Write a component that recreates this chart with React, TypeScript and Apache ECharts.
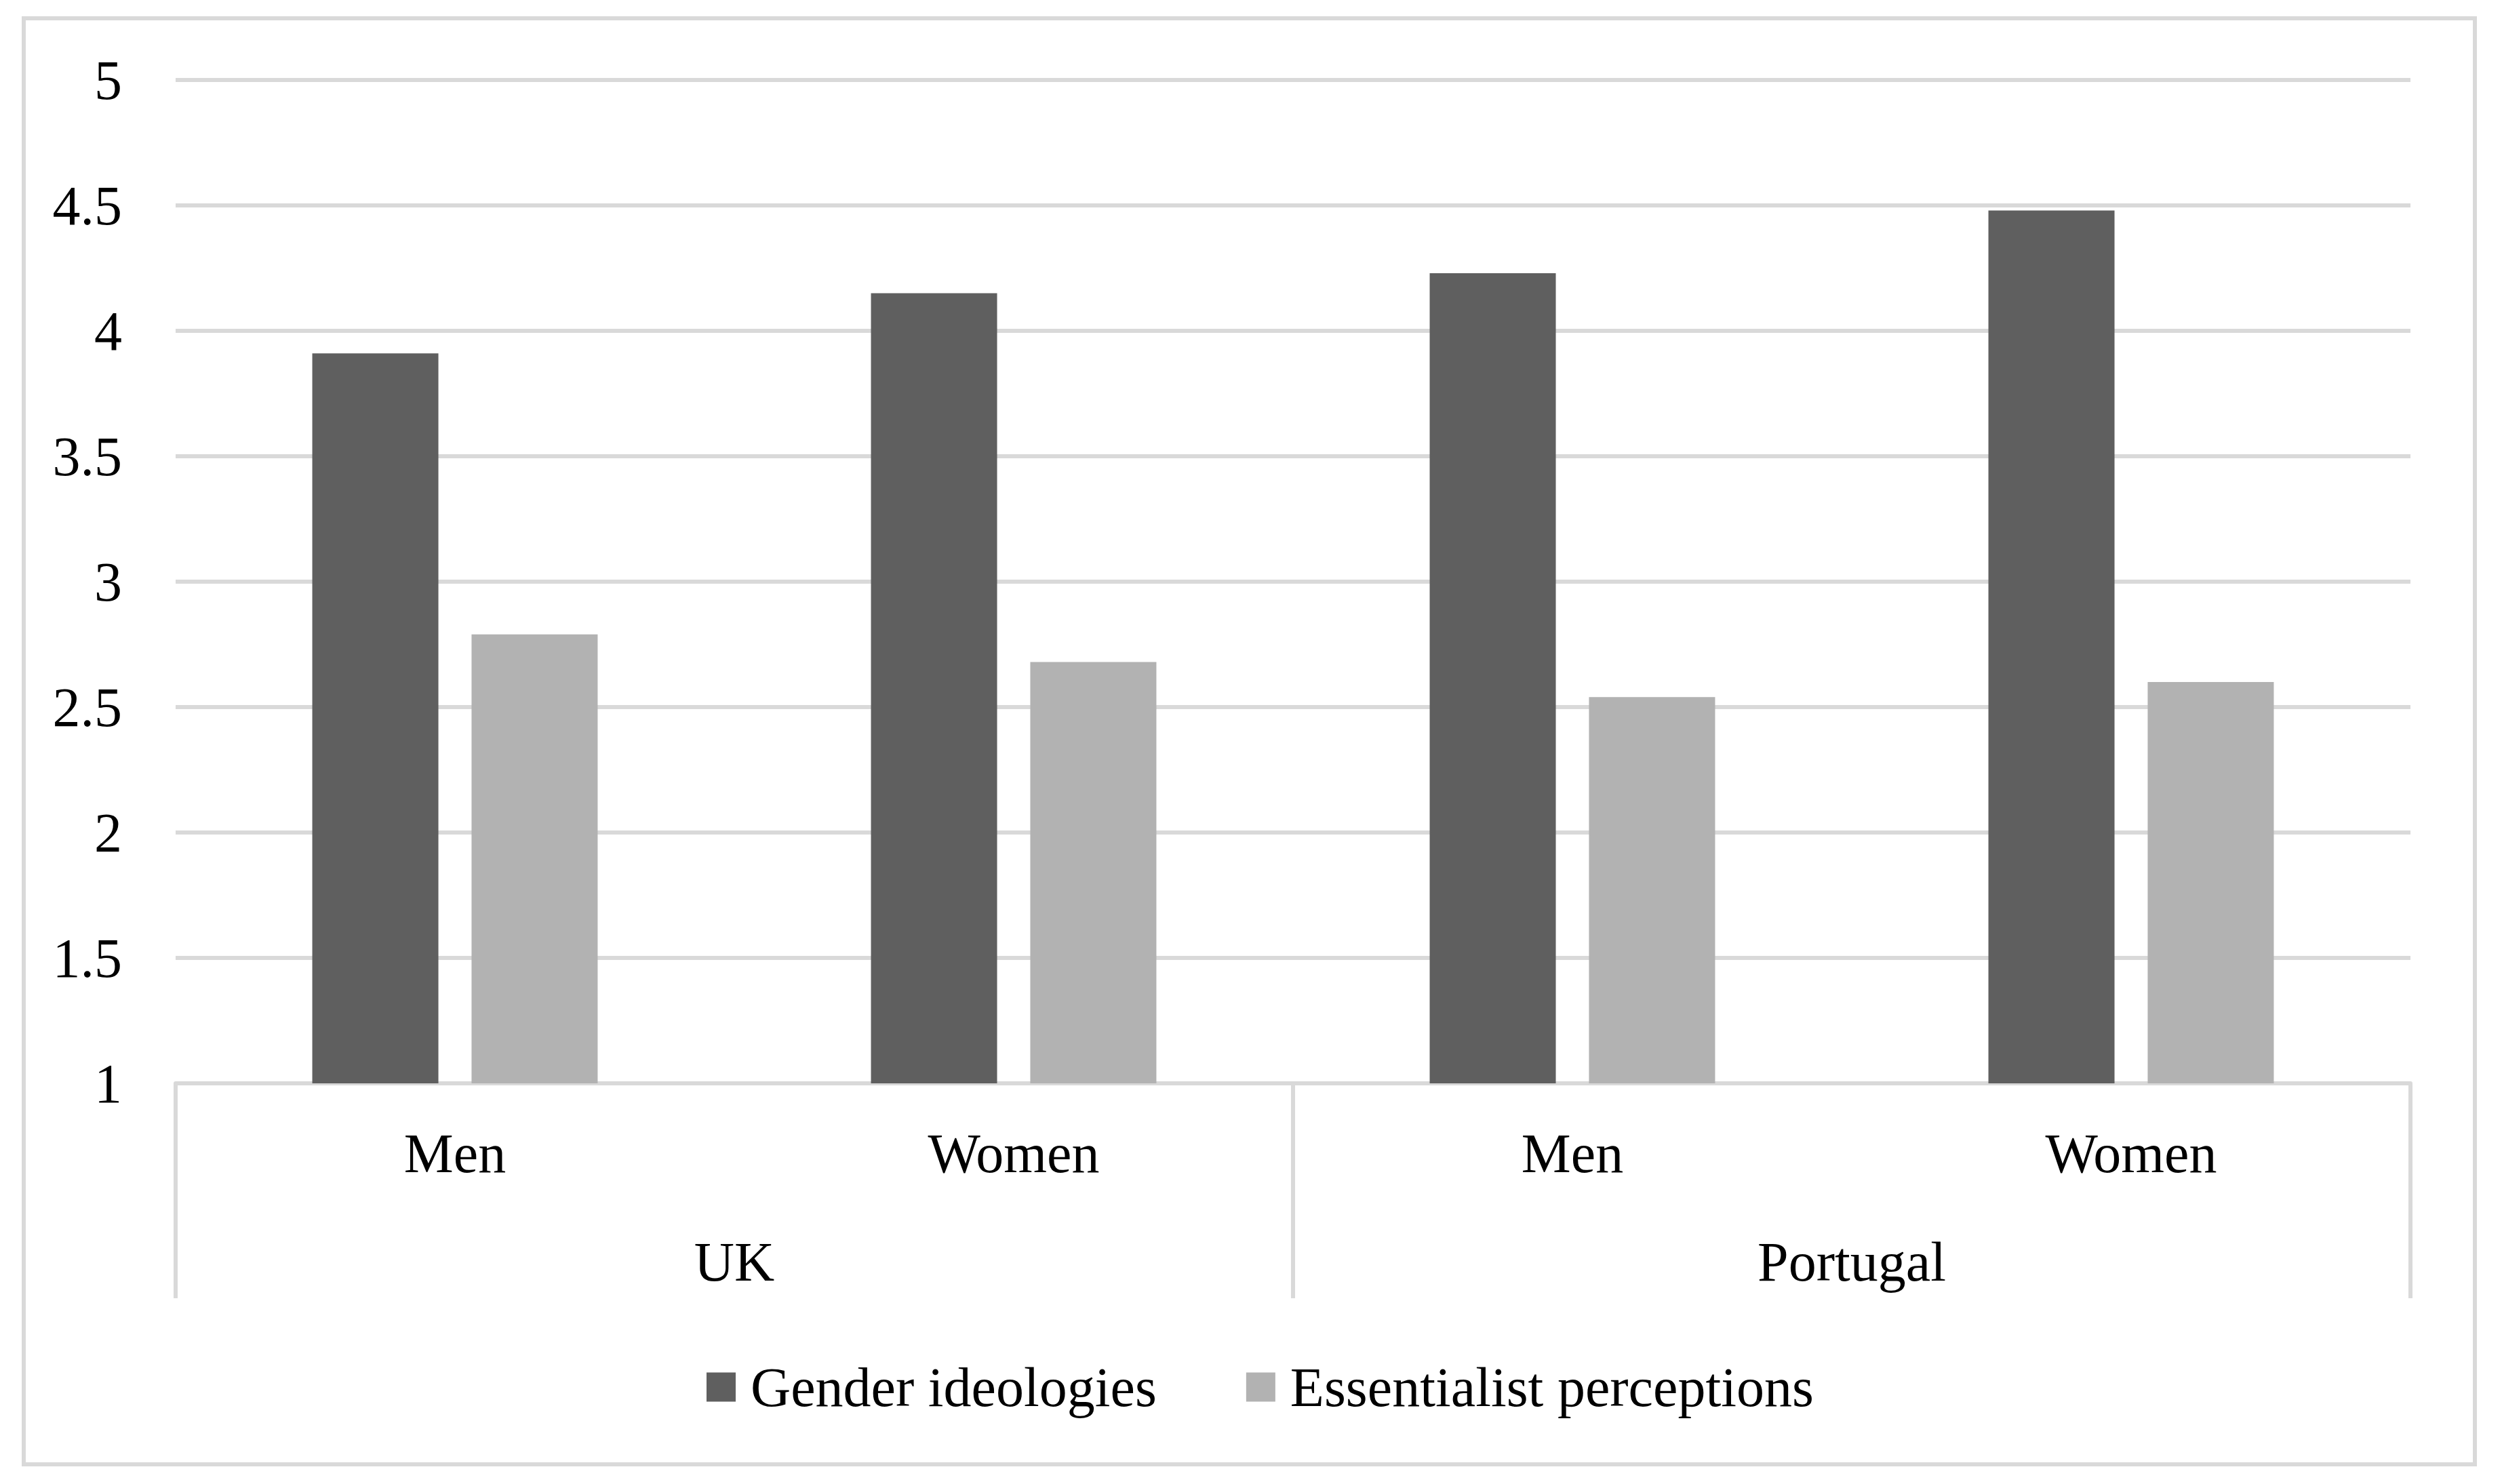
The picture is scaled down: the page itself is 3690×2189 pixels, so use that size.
import React, { useEffect, useRef } from "react";
import * as echarts from "echarts";

const subCategories = ["Men", "Women", "Men", "Women"];
const countries = ["UK", "Portugal"];
const genderIdeologies = [3.91, 4.15, 4.23, 4.48];
const essentialistPerceptions = [2.79, 2.68, 2.54, 2.6];
const seriesNames = ["Gender ideologies", "Essentialist perceptions"];
const seriesColors = ["#5f5f5f", "#b2b2b2"];

const W = 3690;
const H = 2189;
const FONT = "'Liberation Serif', 'Times New Roman', serif";
const FS = 82;
const GRID_COLOR = "#d9d9d9";

export default function App() {
  const ref = useRef<HTMLDivElement>(null);
  useEffect(() => {
    document.body.style.margin = "0";
    const chart = echarts.init(ref.current!, null, { renderer: "svg" });
    chart.setOption({
      animation: false,
      backgroundColor: "#ffffff",
      textStyle: { fontFamily: FONT },
      graphic: [
        {
          type: "rect",
          shape: { x: 35, y: 27, width: 3615, height: 2133 },
          style: { fill: "none", stroke: GRID_COLOR, lineWidth: 6 },
          silent: true,
        },
      ],
      legend: {
        left: 1037,
        top: 2000,
        itemWidth: 43,
        itemHeight: 43,
        itemGap: 132,
        icon: "rect",
        textStyle: { fontFamily: FONT, fontSize: FS, color: "#000", padding: [0, 0, 0, 17] },
        data: seriesNames,
      },
      grid: { left: 259, right: 135, top: 118, bottom: 591, containLabel: false },
      yAxis: {
        type: "value",
        min: 1,
        max: 5,
        interval: 0.5,
        axisLine: { show: false },
        axisTick: { show: false },
        axisLabel: { fontFamily: FONT, fontSize: FS, color: "#000", margin: 79 },
        splitLine: { lineStyle: { color: GRID_COLOR, width: 6 } },
      },
      xAxis: [
        {
          type: "category",
          data: subCategories,
          position: "bottom",
          axisLine: { show: true, lineStyle: { color: GRID_COLOR, width: 6 } },
          axisTick: { show: false },
          axisLabel: { fontFamily: FONT, fontSize: FS, color: "#000", margin: 62, interval: 0 },
        },
        {
          type: "category",
          data: countries,
          position: "bottom",
          axisLine: { show: false },
          axisTick: { show: true, length: 317, lineStyle: { color: GRID_COLOR, width: 6 } },
          axisLabel: { fontFamily: FONT, fontSize: FS, color: "#000", margin: 222, interval: 0 },
          splitLine: { show: false },
        },
      ],
      series: [
        {
          name: seriesNames[0],
          type: "bar",
          xAxisIndex: 0,
          data: genderIdeologies,
          barWidth: 186,
          barGap: "26.3%",
          itemStyle: { color: seriesColors[0] },
        },
        {
          name: seriesNames[1],
          type: "bar",
          xAxisIndex: 0,
          data: essentialistPerceptions,
          barWidth: 186,
          barGap: "26.3%",
          itemStyle: { color: seriesColors[1] },
        },
      ],
    });
    return () => chart.dispose();
  }, []);
  return <div ref={ref} style={{ width: W, height: H }} />;
}
